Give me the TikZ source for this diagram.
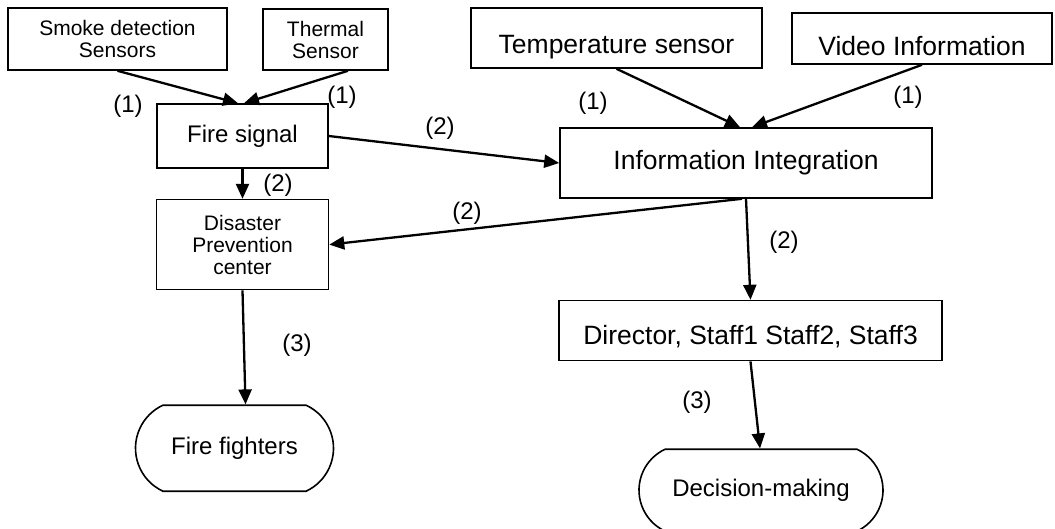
\documentclass[tikz,border=0pt]{standalone}
\usepackage{fontspec}
\setmainfont{Liberation Sans}
\usetikzlibrary{positioning, shapes.misc, arrows.meta}

\begin{document}
\begin{tikzpicture}[x=1pt,y=1pt,>={Triangle[length=15pt,width=13pt]},
                    box/.style={draw,line width=1.6pt,inner sep=0pt,align=center},
                    pill/.style={draw,line width=1.6pt,inner sep=0pt,rounded rectangle,rounded rectangle arc length=130},
                    smalltext/.style={font=\fontsize{21}{22}\selectfont},
                    midtext/.style={font=\fontsize{24}{26}\selectfont},
                    bigtext/.style={font=\fontsize{26.5}{28}\selectfont}]

  \useasboundingbox (0,0) rectangle (1055,-528);

  \node[box,smalltext,minimum width=219pt,minimum height=62pt] (smoke) at (117.5,-39) {Smoke detection\\Sensors};
  \node[box,smalltext,minimum width=125pt,minimum height=61pt] (thermal) at (325.5,-39.5) {Thermal\\Sensor};
  \node[box,bigtext,minimum width=291pt,minimum height=60pt,text height=30pt,text depth=0pt] (temp) at (616.5,-38) {Temperature sensor};
  \node[box,bigtext,minimum width=260pt,minimum height=51pt,text height=34pt,text depth=0pt] (video) at (922,-38.5) {Video Information};
  \node[box,midtext,minimum width=171pt,minimum height=64pt] (fire) at (242.5,-136) {Fire signal};
  \node[box,bigtext,minimum width=372pt,minimum height=70pt] (info) at (746,-163) {Information Integration};
  \node[box,smalltext,minimum width=172pt,minimum height=90pt] (disaster) [below=30pt of fire] {Disaster\\Prevention\\center};
  \node[box,bigtext,minimum width=383pt,minimum height=60pt,text height=28pt,text depth=0pt] (staff) [below=101pt of info,xshift=4.5pt] {Director, Staff1 Staff2, Staff3};
  \node[pill,midtext,minimum width=198pt,minimum height=86pt] (fighters) [below=114pt of disaster,xshift=-8pt] {Fire fighters};
  \node[pill,midtext,minimum width=244pt,minimum height=82pt] (decision) [below=87pt of staff,xshift=10.5pt] {Decision-making};

  % step numbers
  \node[midtext] (n1a) at (128,-106) {(1)};
  \node[midtext] (n1b) at (342,-97) {(1)};
  \node[midtext] (n1c) at (593,-103) {(1)};
  \node[midtext] (n1d) at (908,-97) {(1)};
  \node[midtext] (n2a) at (440,-128) {(2)};
  \node[midtext] (n2b) at (278,-185) {(2)};
  \node[midtext] (n2c) at (467,-213) {(2)};
  \node[midtext] (n2d) at (784,-242) {(2)};
  \node[midtext] (n3a) at (297,-345) {(3)};
  \node[midtext] (n3b) at (697,-402) {(3)};

  \path[->,line width=2.3pt]
    (smoke.south) edge ([xshift=-4.5pt]fire.north)
    ([xshift=22.5pt]thermal.south) edge ([xshift=1.5pt]fire.north)
    (temp.south) edge ([xshift=-6pt]info.north)
    (video.south) edge ([xshift=6pt]info.north)
    (fire.east) edge (info.west)
    (fire.south) edge (disaster.north)
    ([xshift=-4pt]info.south) edge (disaster.east)
    (info.south) edge (staff.north)
    (staff.south) edge ([xshift=-1pt]decision.north)
    (disaster.south) edge ([xshift=11pt]fighters.north);

\end{tikzpicture}
\end{document}
